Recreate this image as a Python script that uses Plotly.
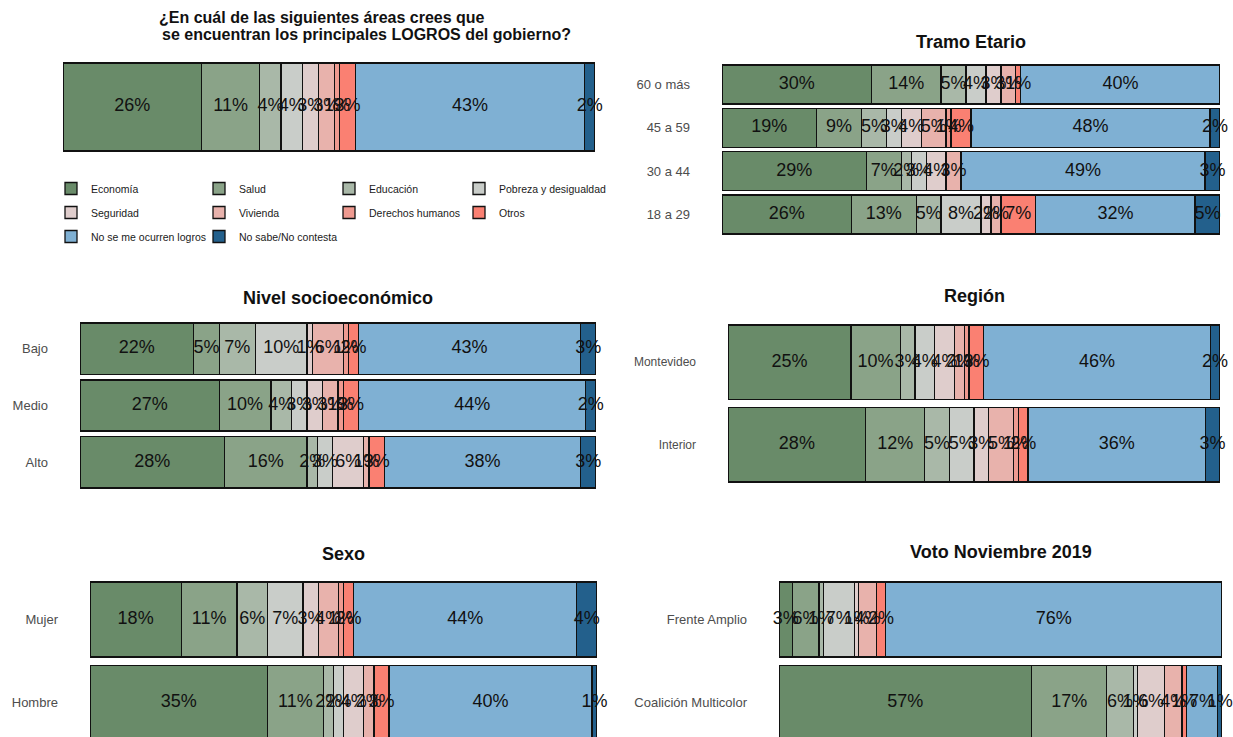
import numpy as np
import plotly.graph_objects as go

# ---------------- data ----------------
categories = ["Economía", "Salud", "Educación", "Pobreza y desigualdad",
              "Seguridad", "Vivienda", "Derechos humanos", "Otros",
              "No se me ocurren logros", "No sabe/No contesta"]

total_rows = ["Total"]
total_values = [[26, 11, 4, 4, 3, 3, 1, 3, 43, 2]]

tramo_rows = ["60 o más", "45 a 59", "30 a 44", "18 a 29"]
tramo_values = [
    [30, 14, 5, 4, 3, 3, 0, 1, 40, 0],
    [19, 9, 5, 3, 4, 5, 1, 4, 48, 2],
    [29, 7, 2, 3, 4, 3, 0, 0, 49, 3],
    [26, 13, 5, 8, 2, 2, 0, 7, 32, 5],
]

nse_rows = ["Bajo", "Medio", "Alto"]
nse_values = [
    [22, 5, 7, 10, 1, 6, 1, 2, 43, 3],
    [27, 10, 4, 3, 3, 3, 1, 3, 44, 2],
    [28, 16, 2, 3, 6, 1, 0, 3, 38, 3],
]

region_rows = ["Montevideo", "Interior"]
region_values = [
    [25, 10, 3, 4, 4, 2, 1, 3, 46, 2],
    [28, 12, 5, 5, 3, 5, 1, 2, 36, 3],
]

sexo_rows = ["Mujer", "Hombre"]
sexo_values = [
    [18, 11, 6, 7, 3, 4, 1, 2, 44, 4],
    [35, 11, 2, 2, 4, 2, 0, 3, 40, 1],
]

voto_rows = ["Frente Amplio", "Coalición Multicolor"]
voto_values = [
    [3, 6, 1, 7, 1, 4, 0, 2, 76, 0],
    [57, 17, 6, 1, 6, 4, 0, 1, 7, 1],
]

# ---------------- style ----------------
colors = ["#698b69", "#8aa388", "#a9b8a8", "#c9cdc9", "#dfcdcc",
          "#e8b2ac", "#ef9a90", "#fa8072", "#7fb0d3", "#23608c"]
FONT = "Liberation Sans, Arial, sans-serif"
W, H = 1233, 737


def px_x(p):
    return p / W


def px_y(p):
    return 1 - p / H


panels = [
    dict(rows=total_rows, vals=total_values, title=None, x=(63, 595), yd=(58.1, 155.9),
         yr=None, tick=13, ty=None, ticks=False),
    dict(rows=tramo_rows, vals=tramo_values, title="Tramo Etario", x=(722, 1220), yd=(62.8, 236.2),
         yr=None, tick=13, ty=42, ticks=True),
    dict(rows=nse_rows, vals=nse_values, title="Nivel socioeconómico", x=(80, 596), yd=(320.2, 490.8),
         yr=None, tick=13, ty=298, ticks=True),
    dict(rows=region_rows, vals=region_values, title="Región", x=(728, 1220), yd=(320.9, 486.1),
         yr=None, tick=12, ty=296, ticks=True),
    dict(rows=sexo_rows, vals=sexo_values, title="Sexo", x=(90, 597), yd=(577.8, 737),
         yr=(-0.411, 1.5), tick=13, ty=554, ticks=True),
    dict(rows=voto_rows, vals=voto_values, title="Voto Noviembre 2019", x=(779, 1222), yd=(577.8, 737),
         yr=(-0.411, 1.5), tick=13, ty=552, ticks=True),
]

legend_ids = ["legend", "legend2", "legend3", "legend4"]

fig = go.Figure()
layout = dict(
    width=W, height=H, margin=dict(l=0, r=0, t=0, b=0),
    paper_bgcolor="white", plot_bgcolor="white",
    barmode="stack", font=dict(family=FONT, color="#1a1a1a"),
    annotations=[],
)

for i, p in enumerate(panels):
    n = i + 1
    xa = "x" if n == 1 else f"x{n}"
    ya = "y" if n == 1 else f"y{n}"
    vals = np.array(p["vals"], dtype=float)
    rows = p["rows"]
    for j, cat in enumerate(categories):
        fig.add_trace(go.Bar(
            orientation="h", y=rows, x=vals[:, j], name=cat,
            marker=dict(color=colors[j], line=dict(color="#111111", width=1.3)),
            width=0.9, xaxis=xa, yaxis=ya,
            legendgroup=cat, showlegend=(i == 0),
            legend=legend_ids[j % 4], hoverinfo="skip",
        ))
    cum = np.cumsum(vals, axis=1)
    mids = cum - vals / 2
    tx, ty, tt = [], [], []
    for r, row in enumerate(rows):
        for j in range(len(categories)):
            if vals[r, j] > 0:
                tx.append(mids[r, j])
                ty.append(row)
                tt.append(f"{int(round(vals[r, j]))}%")
    fig.add_trace(go.Scatter(
        x=tx, y=ty, text=tt, mode="text", xaxis=xa, yaxis=ya,
        textfont=dict(size=18, color="#111111", family=FONT),
        cliponaxis=False, showlegend=False, hoverinfo="skip",
    ))

    xkey = "xaxis" if n == 1 else f"xaxis{n}"
    ykey = "yaxis" if n == 1 else f"yaxis{n}"
    layout[xkey] = dict(domain=[px_x(p["x"][0]), px_x(p["x"][1])], range=[0, 100],
                        showgrid=False, zeroline=False, showticklabels=False,
                        ticks="", showline=False, anchor=ya, fixedrange=True)
    yr = p["yr"] if p["yr"] else (-0.5, len(rows) - 0.5)
    layout[ykey] = dict(domain=[px_y(p["yd"][1]), px_y(p["yd"][0])],
                        type="category", categoryorder="array",
                        categoryarray=rows[::-1], range=list(yr),
                        showgrid=False, zeroline=False, ticks="",
                        showticklabels=p["ticks"], ticklabelstandoff=31,
                        tickfont=dict(size=p["tick"], color="#4d4d4d", family=FONT),
                        anchor=xa, fixedrange=True)
    if p["title"]:
        layout["annotations"].append(dict(
            text=p["title"], x=(px_x(p["x"][0]) + px_x(p["x"][1])) / 2, y=px_y(p["ty"]),
            xref="paper", yref="paper", showarrow=False, xanchor="center", yanchor="middle",
            font=dict(size=18, family=FONT, color="#111111", weight="bold")))

layout["annotations"].append(dict(
    text="¿En cuál de las siguientes áreas crees que", x=px_x(322), y=px_y(17),
    xref="paper", yref="paper", showarrow=False, xanchor="center", yanchor="middle",
    font=dict(size=16, family=FONT, color="#111111", weight="bold")))
layout["annotations"].append(dict(
    text="se encuentran los principales LOGROS del gobierno?", x=px_x(366), y=px_y(34),
    xref="paper", yref="paper", showarrow=False, xanchor="center", yanchor="middle",
    font=dict(size=16, family=FONT, color="#111111", weight="bold")))

legend_x_px = [51, 199, 329, 459]
for k, lid in enumerate(legend_ids):
    layout[lid] = dict(
        x=px_x(legend_x_px[k]), y=px_y(174), xanchor="left", yanchor="top",
        orientation="v", bgcolor="rgba(0,0,0,0)", borderwidth=0,
        font=dict(size=10.5, family=FONT, color="#1a1a1a"),
        tracegroupgap=5, traceorder="grouped", itemclick=False, itemdoubleclick=False,
    )

fig.update_layout(**layout)
fig.write_html("out.html", config={"displayModeBar": False},
               post_script="document.body.style.margin='0';document.body.style.overflow='hidden';")
